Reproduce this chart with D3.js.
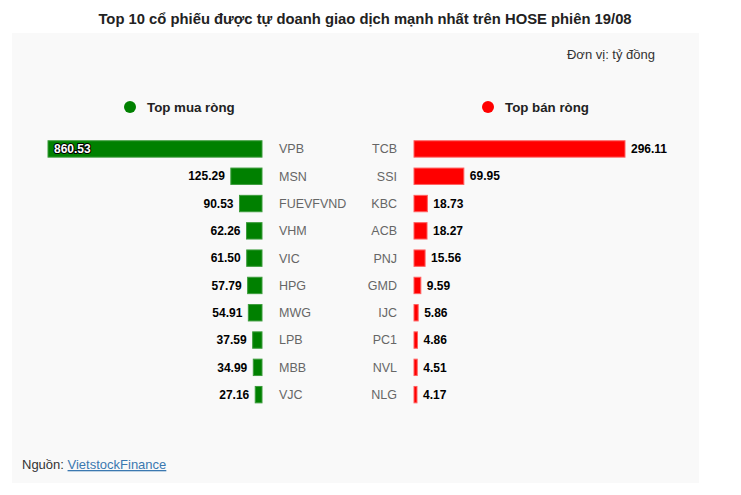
<!DOCTYPE html>
<html><head><meta charset="utf-8">
<script src="https://cdn.jsdelivr.net/npm/d3@7/dist/d3.min.js"></script>
<style>
body{margin:0;background:#fff;}
svg{display:block;font-family:"Liberation Sans",Arial,sans-serif;}
</style></head>
<body><svg id="c" width="741" height="495"></svg>
<script>
const buyTickers = ["VPB","MSN","FUEVFVND","VHM","VIC","HPG","MWG","LPB","MBB","VJC"];
const buyValues  = [860.53,125.29,90.53,62.26,61.50,57.79,54.91,37.59,34.99,27.16];
const sellTickers = ["TCB","SSI","KBC","ACB","PNJ","GMD","IJC","PC1","NVL","NLG"];
const sellValues  = [296.11,69.95,18.73,18.27,15.56,9.59,5.86,4.86,4.51,4.17];
const title = "Top 10 cổ phiếu được tự doanh giao dịch mạnh nhất trên HOSE phiên 19/08";
const unitLabel = "Đơn vị: tỷ đồng";
const legendBuy = "Top mua ròng", legendSell = "Top bán ròng";

const svg = d3.select("#c");
svg.append("rect").attr("x",12).attr("y",33).attr("width",687).attr("height",450).attr("fill","#f9f9f9");
svg.append("text").attr("x",365).attr("y",24).attr("text-anchor","middle")
  .attr("font-size",14.8).attr("font-weight","bold").attr("fill","#222").text(title);
svg.append("text").attr("x",655).attr("y",59).attr("text-anchor","end")
  .attr("font-size",13).attr("fill","#333").text(unitLabel);

// legend
svg.append("circle").attr("cx",130).attr("cy",107).attr("r",6).attr("fill","#008000");
svg.append("text").attr("x",147).attr("y",112).attr("font-size",13.3).attr("font-weight","bold").attr("fill","#222").text(legendBuy);
svg.append("circle").attr("cx",488).attr("cy",107).attr("r",6).attr("fill","#ff0000");
svg.append("text").attr("x",505).attr("y",112).attr("font-size",13.3).attr("font-weight","bold").attr("fill","#222").text(legendSell);

const y = d3.scaleBand().domain(d3.range(10)).range([135.3,408.3]).paddingInner(0.4).paddingOuter(0.2);
const xL = d3.scaleLinear().domain([0,d3.max(buyValues)]).range([0,214]);
const xR = d3.scaleLinear().domain([0,d3.max(sellValues)]).range([0,211]);
const leftEdge = 262, rightEdge = 414;
const fmt = d3.format(".2f");

const gL = svg.append("g");
const rowsL = gL.selectAll("g").data(buyValues).join("g");
rowsL.append("rect").attr("x",d=>leftEdge-xL(d)).attr("y",(d,i)=>y(i))
  .attr("width",d=>xL(d)).attr("height",y.bandwidth())
  .attr("fill","#008000").attr("stroke","#3c9c3c").attr("stroke-width",1);
rowsL.append("text")
  .attr("x",d=> xL(d)>100 ? leftEdge-xL(d)+6 : leftEdge-xL(d)-6)
  .attr("y",(d,i)=>y(i)+y.bandwidth()/2).attr("dy","0.35em")
  .attr("text-anchor",d=> xL(d)>100 ? "start":"end")
  .attr("font-size",12).attr("font-weight","bold")
  .attr("fill",d=> xL(d)>100 ? "#fff":"#000")
  .attr("stroke",d=> xL(d)>100 ? "#000":"none").attr("stroke-width",2)
  .attr("paint-order","stroke").attr("stroke-linejoin","round")
  .text(d=>fmt(d));
gL.selectAll("text.t").data(buyTickers).join("text").attr("class","t")
  .attr("x",279).attr("y",(d,i)=>y(i)+y.bandwidth()/2).attr("dy","0.35em")
  .attr("font-size",12.5).attr("fill","#666").text(d=>d);

const gR = svg.append("g");
const rowsR = gR.selectAll("g").data(sellValues).join("g");
rowsR.append("rect").attr("x",rightEdge).attr("y",(d,i)=>y(i))
  .attr("width",d=>xR(d)).attr("height",y.bandwidth())
  .attr("fill","#ff0000").attr("stroke","#ff6060").attr("stroke-width",1);
rowsR.append("text").attr("x",d=>rightEdge+xR(d)+6)
  .attr("y",(d,i)=>y(i)+y.bandwidth()/2).attr("dy","0.35em")
  .attr("font-size",12).attr("font-weight","bold").attr("fill","#000").text(d=>fmt(d));
gR.selectAll("text.t").data(sellTickers).join("text").attr("class","t")
  .attr("x",397).attr("y",(d,i)=>y(i)+y.bandwidth()/2).attr("dy","0.35em")
  .attr("text-anchor","end").attr("font-size",12.5).attr("fill","#666").text(d=>d);

// footer
const ft = svg.append("text").attr("x",22).attr("y",469).attr("font-size",13).attr("fill","#333");
ft.append("tspan").text("Nguồn: ");
ft.append("tspan").attr("fill","#3b78b0").attr("text-decoration","underline").text("VietstockFinance");
</script></body></html>
